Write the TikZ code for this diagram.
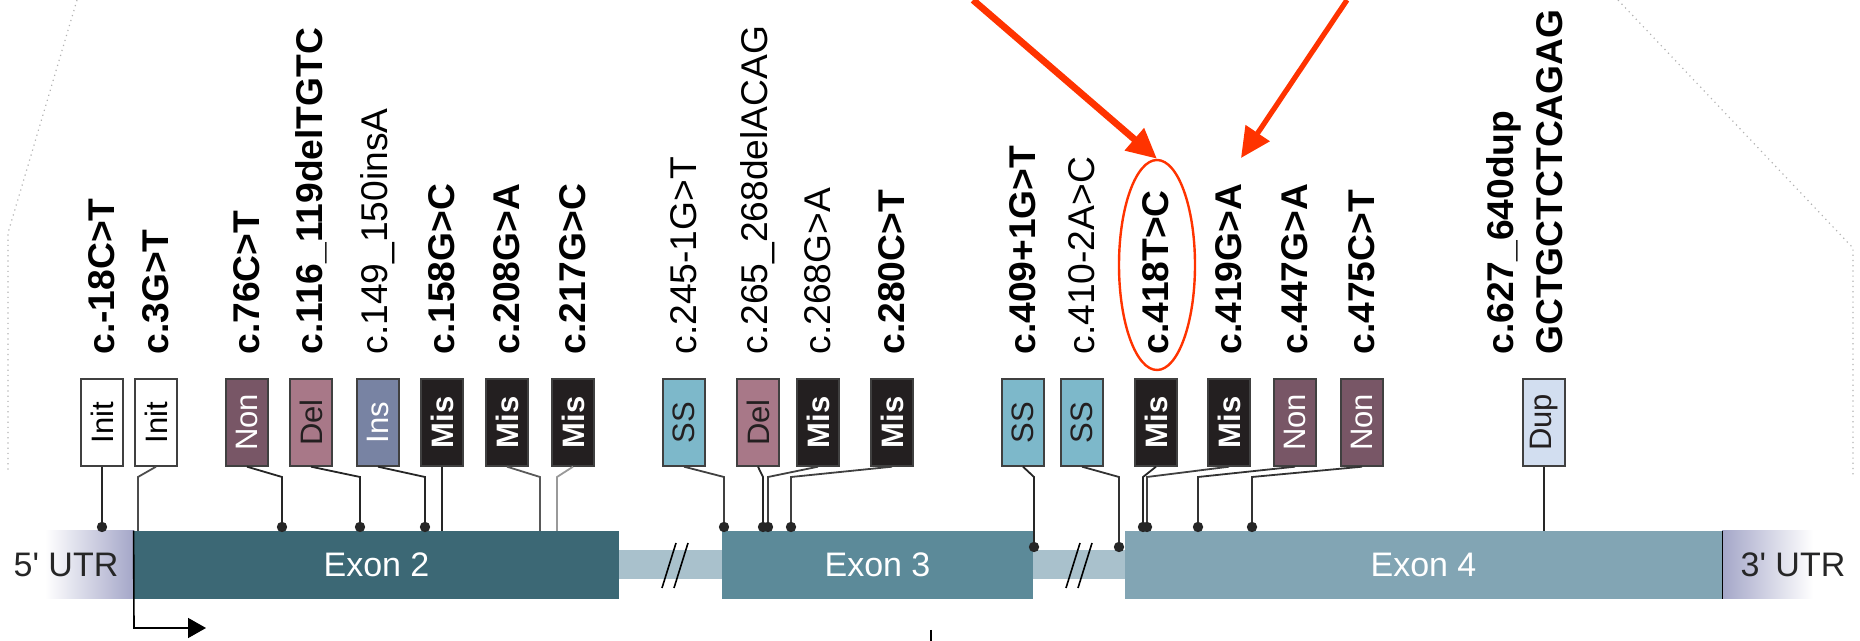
\documentclass[tikz,border=0pt]{standalone}
\usepackage{fontspec}
\setmainfont{Liberation Sans}
\usetikzlibrary{arrows.meta,shapes.geometric}

\definecolor{exontwo}{HTML}{3C6875}
\definecolor{exonthree}{HTML}{5C8A99}
\definecolor{exonfour}{HTML}{82A5B4}
\definecolor{introncol}{HTML}{A9C1CC}
\definecolor{utrcol}{HTML}{A4A6C8}
\definecolor{noncol}{HTML}{785666}
\definecolor{delcol}{HTML}{A87888}
\definecolor{inscol}{HTML}{7883A3}
\definecolor{mutblack}{HTML}{231F20}
\definecolor{sscol}{HTML}{7DB8CA}
\definecolor{dupcol}{HTML}{D2DEF0}
\definecolor{hlred}{HTML}{FF3300}

\newcommand{\labfont}{\fontsize{18.6}{24.5}\selectfont}
\newcommand{\tagfont}{\fontsize{15.5}{18}\selectfont}
\newcommand{\exfont}{\fontsize{17}{20}\selectfont}

\begin{document}
\begin{tikzpicture}[x=0.5pt,y=-0.5pt,
  mutr/.style={rotate=90,anchor=west,inner sep=0pt,font=\labfont},
  mutb/.style={mutr,font=\labfont\bfseries},
  tagbox/.style={draw=black!75,line width=0.7pt,minimum width=21pt,minimum height=43.5pt,inner sep=0pt,font=\tagfont},
  inittag/.style={fill=white},
  nontag/.style={fill=noncol,text=white},
  deltag/.style={fill=delcol,text=mutblack},
  instag/.style={fill=inscol,text=white},
  mistag/.style={fill=mutblack,text=white,font=\tagfont\bfseries},
  sstag/.style={fill=sscol,text=mutblack},
  duptag/.style={fill=dupcol,text=mutblack},
  exon/.style={minimum height=34pt,inner sep=0pt,text=white,font=\exfont},
  conn/.style={line width=0.9pt},
  redarrow/.style={hlred,-{Triangle[length=15pt,width=14pt]}}]

  \useasboundingbox (0,0) rectangle (1860,641);

  % zoom callout remains
  \draw[gray!60,dotted,line width=0.6pt] (77,0) -- (8,233) -- (8,473);
  \draw[gray!60,dotted,line width=0.6pt] (1618,0) -- (1853,248) -- (1853,477);
  \draw[line width=0.7pt] (931,630) -- (931,641);

  % gene
  \fill[introncol] (619,550) rectangle (722,579);
  \fill[introncol] (1033,550) rectangle (1125,579);
  \shade[left color=white,right color=utrcol] (45,531) rectangle (134,599);
  \shade[left color=utrcol,right color=white] (1722,531) rectangle (1813,599);
  \node[exon,fill=exontwo,minimum width=242.5pt] (e2) at (376.5,565) {Exon 2};
  \node[exon,fill=exonthree,minimum width=155.5pt] (e3) at (877.5,565) {Exon 3};
  \node[exon,fill=exonfour,minimum width=298.5pt] (e4) at (1423.5,565) {Exon 4};
  \node[font=\exfont,text=black!85] (u5) at (66,565) {5\textquotesingle\ UTR};
  \node[font=\exfont,text=black!85] (u3) at (1793,565) {3\textquotesingle\ UTR};
  \draw[line width=0.9pt] (e4.north east) -- (e4.south east);
  \coordinate (tss) at (134,628);
  \draw[line width=0.8pt,-{Triangle[length=9pt,width=10pt]}] (e2.north west) -- (tss) -- (206,628);
  \foreach \sx in {662,674,1066,1078}
    \draw[line width=0.8pt] (\sx,588) -- (\sx+14,543);

  % mutation boxes
  \foreach \n/\x/\sty/\txt in {1/102/inittag/Init, 2/156/inittag/Init, 3/247/nontag/Non,
      4/311/deltag/Del, 5/378/instag/Ins, 6/442/mistag/Mis, 7/507/mistag/Mis,
      8/573/mistag/Mis, 9/684/sstag/SS, 10/758/deltag/Del, 11/818/mistag/Mis,
      12/892/mistag/Mis, 13/1023/sstag/SS, 14/1082/sstag/SS, 15/1156/mistag/Mis,
      16/1229/mistag/Mis, 17/1295/nontag/Non, 18/1362/nontag/Non, 19/1544/duptag/Dup}
    \node[tagbox,\sty] (b\n) at (\x,422.5) {\rotatebox{90}{\txt}};

  % connectors to the gene
  \foreach \n/\bx/\ey/\hasdot/\col in {1/102/527/1/black!85, 2/138/531/0/black!70,
      3/282/527/1/black!85, 4/360/527/1/black!85, 5/425/527/1/black!85,
      6/442/531/0/black!85, 7/540/531/0/black!65, 8/557/531/0/black!40,
      9/724/527/1/black!75, 10/763/527/1/black!85, 11/768/527/1/black!75,
      12/791/527/1/black!75, 13/1034/547/1/black!85, 14/1119/547/1/black!80,
      15/1143/527/1/black!85, 16/1147/527/1/black!75, 17/1198/527/1/black!80,
      18/1252/527/1/black!80, 19/1544/531/0/black!85}{
    \draw[conn,\col] (b\n.south) -- (\bx,477) -- (\bx,\ey) coordinate (d\n);
    \ifnum\hasdot=1 \fill[black!85] (d\n) circle[radius=2.6pt]; \fi
  }

  % mutation names
  \foreach \n/\x/\sty/\txt in {1/102/mutb/{c.-18C>T}, 2/156/mutb/{c.3G>T},
      3/247/mutb/{c.76C>T}, 4/311/mutb/{c.116\_119delTGTC}, 5/378/mutr/{c.149\_150insA},
      6/442/mutb/{c.158G>C}, 7/507/mutb/{c.208G>A}, 8/573/mutb/{c.217G>C},
      9/684/mutr/{c.245-1G>T}, 10/758/mutr/{c.265\_268delACAG}, 11/818/mutr/{c.268G>A},
      12/892/mutb/{c.280C>T}, 13/1023/mutb/{c.409+1G>T}, 14/1082/mutr/{c.410-2A>C},
      15/1156/mutb/{c.418T>C}, 16/1229/mutb/{c.419G>A}, 17/1295/mutb/{c.447G>A},
      18/1362/mutb/{c.475C>T}}
    \node[\sty] (m\n) at (\x,355) {\txt};
  \node[mutb,align=left] (m19) at (1525,355) {c.627\_640dup\\GCTGCTCTCAGAG};

  % highlight
  \node[ellipse,draw=hlred,line width=1.2pt,minimum width=38pt,minimum height=105pt,inner sep=0pt] (hl) at (1157,265) {};
  \coordinate (r1) at (973,0);
  \coordinate (r2) at (1347,0);
  \coordinate (t2) at (1241,158);
  \draw[redarrow,line width=3.4pt] (r1) -- (hl.north);
  \draw[redarrow,line width=2.6pt] (r2) -- (t2);
\end{tikzpicture}
\end{document}
